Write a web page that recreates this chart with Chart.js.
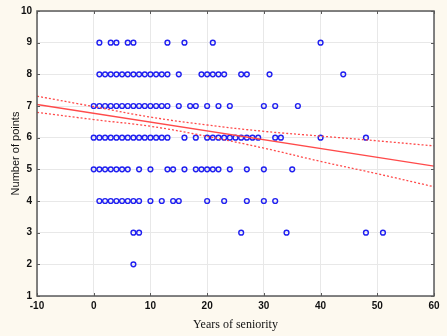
<!DOCTYPE html>
<html><head><meta charset="utf-8">
<script src="https://cdn.jsdelivr.net/npm/chart.js@4/dist/chart.umd.min.js"></script>
<style>html,body{margin:0;padding:0;background:#fdf9ef;} canvas{display:block;}</style>
</head><body>
<canvas id="c" width="447" height="336"></canvas>
<script>
// Tick labels
const xTicks = [-10, 0, 10, 20, 30, 40, 50, 60];
const yTicks = [1, 2, 3, 4, 5, 6, 7, 8, 9, 10];

// Observations: years of seniority for each "number of points" level
const pointLevels = [9, 8, 7, 6, 5, 4, 3, 2];
const seniorityAt9 = [1, 3, 4, 6, 7, 13, 16, 21, 40];
const seniorityAt8 = [1, 2, 3, 4, 5, 6, 7, 8, 9, 10, 11, 12, 13, 15, 19, 20, 21, 22, 23, 26, 27, 31, 44];
const seniorityAt7 = [0, 1, 2, 3, 4, 5, 6, 7, 8, 9, 10, 11, 12, 13, 15, 17, 18, 20, 22, 24, 30, 32, 36];
const seniorityAt6 = [0, 1, 2, 3, 4, 5, 6, 7, 8, 9, 10, 11, 12, 13, 16, 18, 20, 21, 22, 23, 24, 25, 26, 27, 28, 29, 32, 33, 40, 48];
const seniorityAt5 = [0, 1, 2, 3, 4, 5, 6, 8, 10, 13, 14, 16, 18, 19, 20, 21, 22, 24, 27, 30, 35];
const seniorityAt4 = [1, 2, 3, 4, 5, 6, 7, 8, 10, 12, 14, 15, 20, 23, 27, 30, 32];
const seniorityAt3 = [7, 8, 26, 34, 48, 51];
const seniorityAt2 = [7];
const seniorityByLevel = [seniorityAt9, seniorityAt8, seniorityAt7, seniorityAt6, seniorityAt5, seniorityAt4, seniorityAt3, seniorityAt2];

// Regression line and 95% confidence band
const fitX = [-10, 60];
const fitY = [7.05, 5.10];
const bandX = [-10, 0, 10, 20, 30, 40, 50, 60];
const bandUpper = [7.31, 6.98, 6.65, 6.40, 6.20, 6.05, 5.90, 5.74];
const bandLower = [6.80, 6.57, 6.36, 6.04, 5.67, 5.25, 4.86, 4.45];

const scatterData = [];
seniorityByLevel.forEach((xs, i) => xs.forEach(x => scatterData.push({x: x, y: pointLevels[i]})));
const toXY = (xs, ys) => xs.map((x, i) => ({x: x, y: ys[i]}));

const RED = '#ff4a4a';
const FRAME = '#5a5a5a';

const framePlugin = {
  id: 'frame',
  beforeDraw(chart) {
    const {ctx, chartArea: a} = chart;
    ctx.save();
    ctx.fillStyle = '#fdf9ef';
    ctx.fillRect(0, 0, chart.width, chart.height);
    ctx.fillStyle = '#ffffff';
    ctx.fillRect(a.left, a.top, a.right - a.left, a.bottom - a.top);
    ctx.restore();
  },
  afterDraw(chart) {
    const {ctx, chartArea: a, scales} = chart;
    ctx.save();
    ctx.strokeStyle = FRAME;
    ctx.lineWidth = 1.5;
    ctx.strokeRect(a.left, a.top, a.right - a.left, a.bottom - a.top);
    ctx.lineWidth = 1;
    ctx.beginPath();
    scales.y.ticks.forEach(t => {
      const py = Math.round(scales.y.getPixelForValue(t.value)) + 0.5;
      ctx.moveTo(a.left, py); ctx.lineTo(a.left + 3, py);
      ctx.moveTo(a.right, py); ctx.lineTo(a.right - 3, py);
    });
    scales.x.ticks.forEach(t => {
      const px = Math.round(scales.x.getPixelForValue(t.value)) + 0.5;
      ctx.moveTo(px, a.top); ctx.lineTo(px, a.top + 3);
      ctx.moveTo(px, a.bottom); ctx.lineTo(px, a.bottom - 3);
    });
    ctx.stroke();
    ctx.restore();
  }
};

const tickFont = {family: 'Liberation Sans, Arial, sans-serif', size: 10, weight: 'bold'};

new Chart(document.getElementById('c'), {
  type: 'scatter',
  data: {
    datasets: [
      {data: toXY(fitX, fitY), showLine: true, borderColor: RED, borderWidth: 1.4, pointRadius: 0, order: 0},
      {data: toXY(bandX, bandUpper), showLine: true, borderColor: RED, borderWidth: 1.3, borderDash: [2, 2], tension: 0.4, pointRadius: 0, order: 0},
      {data: toXY(bandX, bandLower), showLine: true, borderColor: RED, borderWidth: 1.3, borderDash: [2, 2], tension: 0.4, pointRadius: 0, order: 0},
      {data: scatterData, pointStyle: 'circle', pointRadius: 2.4, borderWidth: 1.4, borderColor: '#2020f0', backgroundColor: 'rgba(255,255,255,0)', order: 1}
    ]
  },
  options: {
    responsive: false,
    devicePixelRatio: 1,
    animation: false,
    layout: {padding: {top: 10, right: 13, left: 0, bottom: 0}},
    plugins: {legend: {display: false}, tooltip: {enabled: false}},
    scales: {
      x: {
        type: 'linear', min: xTicks[0], max: xTicks[xTicks.length - 1],
        afterBuildTicks: s => { s.ticks = xTicks.map(v => ({value: v})); },
        ticks: {font: tickFont, color: '#111', padding: 4, autoSkip: false, maxRotation: 0},
        grid: {color: '#e8e8e8', drawTicks: false, tickLength: 0},
        border: {display: false},
        title: {display: true, text: 'Years of seniority', color: '#111',
                font: {family: 'Liberation Serif, Times New Roman, serif', size: 12}, padding: {top: 0, bottom: 4}},
        afterFit: s => { s.height = 40; }
      },
      y: {
        type: 'linear', min: yTicks[0], max: yTicks[yTicks.length - 1],
        afterBuildTicks: s => { s.ticks = yTicks.map(v => ({value: v})); },
        ticks: {font: tickFont, color: '#111', padding: 5, autoSkip: false},
        grid: {color: '#e8e8e8', drawTicks: false, tickLength: 0},
        border: {display: false},
        title: {display: true, text: 'Number of points', color: '#111',
                font: {family: 'Liberation Sans, Arial, sans-serif', size: 11}, padding: {top: 9, bottom: 0}},
        afterFit: s => { s.width = 37; }
      }
    }
  },
  plugins: [framePlugin]
});
</script>
</body></html>
